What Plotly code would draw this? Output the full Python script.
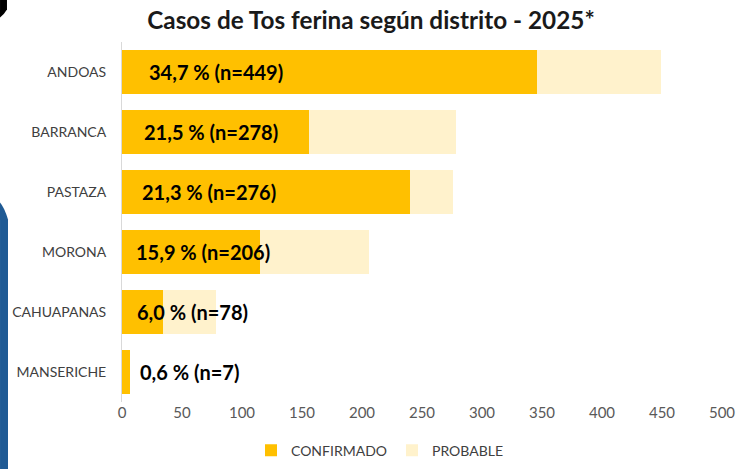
import plotly.graph_objects as go

districts = ["ANDOAS", "BARRANCA", "PASTAZA", "MORONA", "CAHUAPANAS", "MANSERICHE"]
confirmados = [346, 156, 240, 115, 34, 7]
probables = [103, 122, 36, 91, 44, 0]
porcentajes = ["34,7", "21,5", "21,3", "15,9", "6,0", "0,6"]
totales = [449, 278, 276, 206, 78, 7]
x_ticks = [0, 50, 100, 150, 200, 250, 300, 350, 400, 450, 500]

FONT = "Lato"
label_shift = [25, 20, 18, 12, 13, 16]

fig = go.Figure()
fig.add_trace(go.Bar(
    y=districts, x=confirmados, orientation="h", name="CONFIRMADO",
    marker=dict(color="#FFC000", line=dict(width=0)),
    hoverinfo="x+y",
))
fig.add_trace(go.Bar(
    y=districts, x=probables, orientation="h", name="PROBABLE",
    marker=dict(color="#FFF2CC", line=dict(width=0)),
    hoverinfo="x+y",
))

annotations = []
for d, p, n, s in zip(districts, porcentajes, totales, label_shift):
    annotations.append(dict(
        x=0, y=d, xref="x", yref="y", xanchor="left", yanchor="middle",
        xshift=s, text=f"<b>{p} % (n={n})</b>", showarrow=False,
        font=dict(family=FONT, size=20, color="#000000"),
    ))

fig.update_layout(
    barmode="stack",
    bargap=0.28,
    width=744, height=469,
    margin=dict(l=122, r=22, t=42, b=67, autoexpand=False),
    paper_bgcolor="#FFFFFF",
    plot_bgcolor="#FFFFFF",
    title=dict(
        text="<b>Casos de Tos ferina según distrito - 2025*</b>",
        x=371 / 744, xref="container", xanchor="center", y=1 - 20 / 469, yref="container", yanchor="middle",
        font=dict(family=FONT, size=24.3, color="#1A1A1A"),
    ),
    font=dict(family=FONT),
    xaxis=dict(
        range=[0, 500], tickvals=x_ticks, ticktext=[str(v) for v in x_ticks],
        showgrid=False, zeroline=False, showline=False, ticks="",
        tickfont=dict(family=FONT, size=15, color="#595959"),
        automargin=False, fixedrange=True,
    ),
    yaxis=dict(
        categoryorder="array", categoryarray=districts, autorange="reversed",
        showgrid=False, zeroline=False, showline=True, linecolor="#D9D9D9", linewidth=1,
        ticks="", ticklabelstandoff=12,
        tickfont=dict(family=FONT, size=14, color="#404040"),
        automargin=False, fixedrange=True,
    ),
    legend=dict(
        orientation="h", x=0.43, xanchor="center", y=-0.135, yanchor="middle",
        font=dict(family=FONT, size=14, color="#404040"),
        itemwidth=30, traceorder="normal",
    ),
    annotations=annotations,
    shapes=[
        dict(type="path", xref="paper", yref="paper",
             path="M -0.2033 -0.19 L -0.19 -0.19 L -0.19 0.507 Q -0.196 0.54 -0.2033 0.554 Z",
             fillcolor="#1F5A94", line=dict(width=0), layer="below"),
        dict(type="path", xref="paper", yref="paper",
             path="M -0.2033 1.12 L -0.1917 1.12 L -0.1917 1.09 Q -0.197 1.075 -0.2033 1.068 Z",
             fillcolor="#000000", line=dict(width=0), layer="below"),
    ],
)

fig.write_html("out.html", config={"displayModeBar": False},
               post_script="document.body.style.margin='0';")
